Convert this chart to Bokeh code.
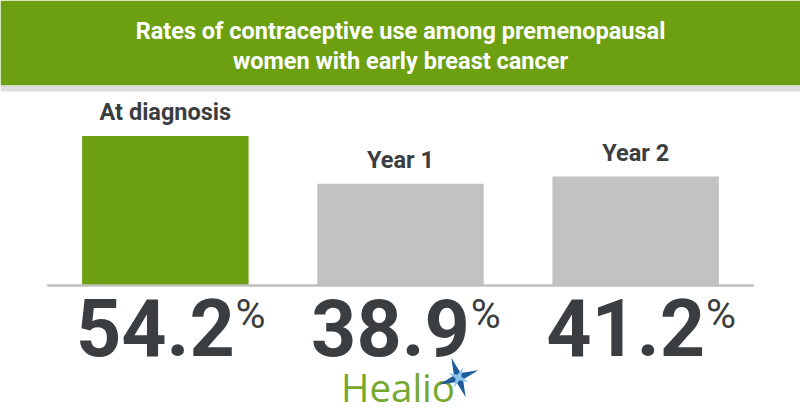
import numpy as np
from bokeh.plotting import figure
from bokeh.models import Range1d, ColumnDataSource
from bokeh.core.properties import value
from bokeh.embed import file_html
from bokeh.resources import INLINE

# ---------------- data ----------------
categories = ["At diagnosis", "Year 1", "Year 2"]
rates = [54.2, 38.9, 41.2]
rate_labels = ["54.2", "38.9", "41.2"]
title_lines = ["Rates of contraceptive use among premenopausal",
               "women with early breast cancer"]
brand = "Healio"

# ---------------- styles ----------------
GREEN = "#6ca011"
GRAY_BAR = "#c2c2c2"
STRIP = "#dedede"
DARK = "#3a3e40"
LOGO_GREEN = "#76a72e"
bar_colors = [GREEN, GRAY_BAR, GRAY_BAR]

W, H = 800, 420
BASE = 6.25          # value at the baseline of the bars
PX_PER_UNIT = 3.12
BASE_Y = 285         # screen row of the baseline
PAD = 0.201
SHIFT = 0.36         # renderer baseline correction (in em)

y_top = BASE + BASE_Y / PX_PER_UNIT
y_bot = BASE - (H - BASE_Y) / PX_PER_UNIT

p = figure(width=W, height=H,
           x_range=Range1d(-PAD, len(categories) + PAD),
           y_range=Range1d(y_bot, y_top),
           x_axis_type=None, y_axis_type=None,
           output_backend="svg", toolbar_location=None,
           min_border=0, outline_line_color=None,
           background_fill_color="white", border_fill_color="white")
p.grid.visible = False
p.extra_x_ranges = {"px": Range1d(0, W)}
p.extra_y_ranges = {"px": Range1d(H, 0)}

# banner
TITLE_SIZE = 23.5
p.quad(left=0, right=W, top=0, bottom=85, x_range_name="px", y_range_name="px",
       fill_color=GREEN, line_color=None)
p.quad(left=0, right=W, top=85, bottom=91, x_range_name="px", y_range_name="px",
       fill_color=STRIP, line_color=None)
p.text(x=[400, 400], y=[38.5 - SHIFT * TITLE_SIZE, 69 - SHIFT * TITLE_SIZE],
       text=title_lines, x_range_name="px", y_range_name="px",
       text_align="center", text_baseline="alphabetic",
       text_font=value("Roboto"), text_font_style="bold",
       text_font_size=f"{TITLE_SIZE}px", text_color="white")

# bars (one slot per category)
pos = np.arange(len(categories)) + 0.5
src = ColumnDataSource(dict(pos=pos, cat=categories, rate=rates,
                            lab=rate_labels, color=bar_colors))
p.vbar(x="pos", top="rate", bottom=BASE, width=0.708, source=src,
       fill_color="color", line_color=None)

# baseline
p.segment(x0=46.7, x1=753.3, y0=BASE, y1=BASE, x_range_name="px",
          line_color="#bfbfbf", line_width=2.5)

# category labels above bars
LAB_SIZE = 23.5
p.text(x="pos", y="rate", text="cat", source=src,
       y_offset=-15 - SHIFT * LAB_SIZE,
       text_align="center", text_baseline="alphabetic",
       text_font=value("Roboto"), text_font_style="bold",
       text_font_size=f"{LAB_SIZE}px", text_color=DARK)

# big numbers
NUM_SIZE = 79
PCT_SIZE = 41
NUM_X_OFF = -10
num_width = (3 * 0.5615 + 0.271) * NUM_SIZE
p.text(x="pos", y=355.7 - SHIFT * NUM_SIZE, text="lab", source=src,
       y_range_name="px",
       x_offset=NUM_X_OFF, text_align="center", text_baseline="alphabetic",
       text_font=value("Roboto"), text_font_style="bold",
       text_font_size=f"{NUM_SIZE}px", text_color=DARK)
p.text(x="pos", y=328 - SHIFT * PCT_SIZE, text=value("%"), source=src,
       y_range_name="px",
       x_offset=NUM_X_OFF + num_width / 2 + 3, text_align="left",
       text_baseline="alphabetic",
       text_font=value("Roboto"), text_font_style="normal",
       text_font_size=f"{PCT_SIZE}px", text_color=DARK)

# logo
LOGO_SIZE = 38.5
p.text(x=340.5, y=400 - SHIFT * LOGO_SIZE, text=value(brand),
       x_range_name="px", y_range_name="px",
       text_align="left", text_baseline="alphabetic",
       text_font=value("Open Sans"), text_font_size=f"{LOGO_SIZE}px",
       text_color=LOGO_GREEN)


def star(cx, cy, r_out, r_in, n=4, rot=0.0):
    k = np.arange(2 * n)
    ang = np.deg2rad(rot) + k * np.pi / n
    r = np.where(k % 2 == 0, r_out, r_in)
    return cx + r * np.cos(ang), cy - r * np.sin(ang)


sx, sy = star(458, 377, 21, 5, rot=20)
p.patch(sx, sy, x_range_name="px", y_range_name="px",
        fill_color="#1c5c9c", line_color=None)
sx2, sy2 = star(458, 377, 11, 3, rot=65)
p.patch(sx2, sy2, x_range_name="px", y_range_name="px",
        fill_color="#8cc3ea", line_color=None)

open("out.html", "w").write(file_html(p, INLINE))
